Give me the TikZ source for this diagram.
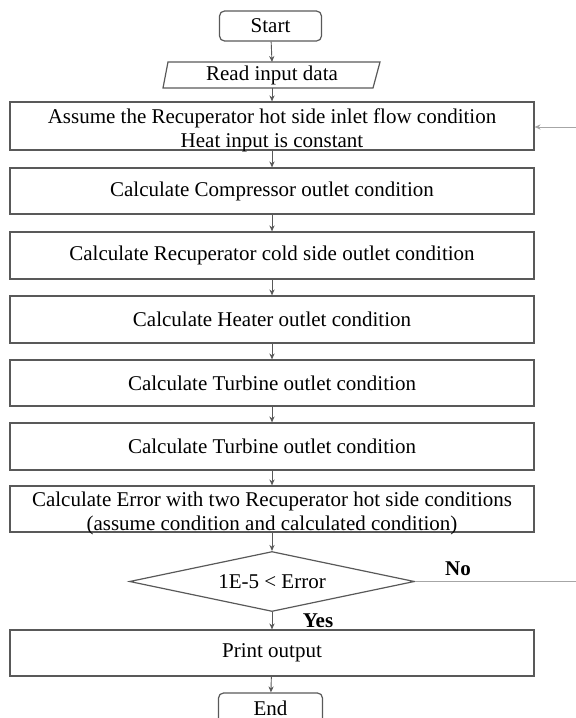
\documentclass[tikz,border=0pt]{standalone}
\usepackage{fontspec}
\setmainfont{Liberation Serif}
\usetikzlibrary{shapes.geometric,arrows.meta}
% two centred lines that do not change the height of their box
\newcommand{\twolines}[2]{\raisebox{-5.2pt}[0pt][0pt]{\renewcommand{\arraystretch}{0.96}\begin{tabular}{@{}c@{}}#1\\#2\end{tabular}}}
\begin{document}
\begin{tikzpicture}[x=0.5pt,y=-0.5pt,
  font=\fontsize{10.5}{12.4}\selectfont,
  edge/.style={draw=black!65,line width=0.45pt},
  flow/.style={edge,-{Stealth[length=3pt,width=2.6pt]}},
  procbox/.style={draw=black!65,line width=0.6pt,minimum width=262pt,inner sep=0pt,align=center},
  termbox/.style={draw=black!65,line width=0.6pt,rounded corners=2.5pt,minimum width=51pt,minimum height=15pt,inner sep=0pt},
  lbl/.style={font=\fontsize{10.5}{12.4}\selectfont\bfseries}]
\clip (0,0) rectangle (576,718);
\useasboundingbox (0,0) rectangle (576,718);

\node[termbox] (start) at (270.5,26) {Start};
\draw[draw=black!65,line width=0.6pt] (168,62) -- (380,62) -- (373,88) -- (163,88) -- cycle;
\node[inner sep=0pt,minimum width=100pt,minimum height=13pt] (read) at (272,75) {Read input data};
\coordinate (readtop) at (272,62);
\coordinate (readbot) at (272,88);

\node[procbox,minimum height=24pt] (b1) at (272,126) {\twolines{Assume the Recuperator hot side inlet flow condition}{Heat input is constant}};
\node[procbox,minimum height=23pt] (b2) at (272,191) {Calculate Compressor outlet condition};
\node[procbox,minimum height=23.5pt] (b3) at (272,255.5) {Calculate Recuperator cold side outlet condition};
\node[procbox,minimum height=23.5pt] (b4) at (272,319.5) {Calculate Heater outlet condition};
\node[procbox,minimum height=23pt] (b5) at (272,383) {Calculate Turbine outlet condition};
\node[procbox,minimum height=23.5pt] (b6) at (272,446.5) {Calculate Turbine outlet condition};
\node[procbox,minimum height=23pt] (b7) at (272,509) {\twolines{Calculate Error with two Recuperator hot side conditions}{(assume condition and calculated condition)}};
\node[draw=black!65,line width=0.6pt,diamond,aspect=4.75,minimum width=142.5pt,minimum height=30pt,inner sep=0pt] (dec) at (272,581.5) {1E-5 {\textless} Error};
\node[procbox,minimum height=23pt] (out) at (272,653) {Print output};
\node[termbox,minimum width=52pt] (stop) at (270.5,708) {End};

\node[lbl] (yes) at (318,620.5) {Yes};
\node[lbl] (no) at (458,568.5) {No};

\coordinate (noend) at (576,581.5);
\coordinate (backin) at (576,127);

\draw[flow] (start) -- (readtop);
\draw[flow] (readbot) -- (b1);
\draw[flow] (b1) -- (b2);
\draw[flow] (b2) -- (b3);
\draw[flow] (b3) -- (b4);
\draw[flow] (b4) -- (b5);
\draw[flow] (b5) -- (b6);
\draw[flow] (b6) -- (b7);
\draw[flow] (b7) -- (dec);
\draw[flow] (dec) -- (out);
\draw[flow] (out) -- (stop);
\draw[edge,draw=black!35] (dec.east) -- (noend);
\draw[flow,draw=black!35] (backin) -- (b1.east |- backin);
\end{tikzpicture}
\end{document}
